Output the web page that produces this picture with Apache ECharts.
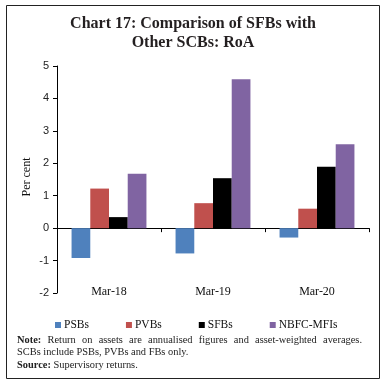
<!DOCTYPE html>
<html>
<head>
<meta charset="utf-8">
<script src="https://cdn.jsdelivr.net/npm/echarts@6/dist/echarts.min.js"></script>
<style>
html,body{margin:0;padding:0;background:#fff;}
#c{width:386px;height:389px;}
</style>
</head>
<body>
<div id="c"></div>
<script>
var categories = ['Mar-18', 'Mar-19', 'Mar-20'];
var seriesNames = ['PSBs', 'PVBs', 'SFBs', 'NBFC-MFIs'];
var psbs = [-0.92, -0.78, -0.29];
var pvbs = [1.22, 0.77, 0.60];
var sfbs = [0.34, 1.54, 1.89];
var nbfcMfis = [1.68, 4.59, 2.59];
var yMin = -2, yMax = 5, yInterval = 1;
var titleLines = ['Chart 17: Comparison of SFBs with', 'Other SCBs: RoA'];
var yAxisName = 'Per cent';
var noteLabel = 'Note:';
var noteText1 = 'Return on assets are annualised figures and asset-weighted averages.';
var noteText2 = 'SCBs include PSBs, PVBs and FBs only.';
var sourceLabel = 'Source:';
var sourceText = 'Supervisory returns.';

var colors = ['#4F81BD', '#C0504D', '#000000', '#8064A2'];
var values = [psbs, pvbs, sfbs, nbfcMfis];
var serif = '"Liberation Serif", "DejaVu Serif", serif';
var sans = '"Liberation Sans", "DejaVu Sans", sans-serif';
var noteSize = 10.4;

// justified first note line
var cv = document.createElement('canvas').getContext('2d');
function w(t, bold) { cv.font = (bold ? 'bold ' : '') + noteSize + 'px ' + serif; return cv.measureText(t).width; }
var words = [{t: noteLabel, b: true}].concat(noteText1.split(' ').map(function (s) { return {t: s, b: false}; }));
var lineL = 17, lineR = 362;
var sumW = words.reduce(function (a, o) { return a + w(o.t, o.b); }, 0);
var gap = (lineR - lineL - sumW) / (words.length - 1);
var noteEls = [];
var cx = lineL;
words.forEach(function (o) {
  noteEls.push({type: 'text', x: cx, y: 335, style: {text: o.t, fontFamily: serif, fontSize: noteSize, fontWeight: o.b ? 'bold' : 'normal', fill: '#222'}});
  cx += w(o.t, o.b) + gap;
});

var chart = echarts.init(document.getElementById('c'), null, {renderer: 'canvas'});
var series = seriesNames.map(function (n, i) {
  return {
    name: n, type: 'bar', data: values[i], xAxisIndex: 0, yAxisIndex: 0,
    barGap: '0%', barCategoryGap: '28%',
    itemStyle: {color: colors[i]}
  };
});
chart.setOption({
  animation: false,
  backgroundColor: '#fff',
  grid: {left: 57, right: 17, top: 66, bottom: 96, containLabel: false},
  xAxis: [{
    type: 'category', data: categories, position: 'bottom',
    axisLine: {show: true, onZero: true, lineStyle: {color: '#000', width: 1}},
    axisTick: {show: true, length: 4, inside: false, lineStyle: {color: '#000'}},
    axisLabel: {show: false}
  }, {
    type: 'category', data: categories, position: 'bottom',
    axisLine: {show: false, onZero: false},
    axisTick: {show: false},
    axisLabel: {show: true, margin: -1, verticalAlign: 'middle', fontFamily: serif, fontSize: 12, color: '#111'}
  }],
  yAxis: {
    type: 'value', min: yMin, max: yMax, interval: yInterval,
    axisLine: {show: true, lineStyle: {color: '#000', width: 1}},
    axisTick: {show: true, length: 4, lineStyle: {color: '#000'}},
    axisLabel: {fontFamily: sans, fontSize: 11, color: '#222', margin: 8},
    splitLine: {show: false}
  },
  legend: {
    data: seriesNames, left: 50, top: 314, itemWidth: 6, itemHeight: 6, itemGap: 37,
    icon: 'rect', textStyle: {fontFamily: serif, fontSize: 11.5, color: '#111', padding: [0, 0, 0, -2]}
  },
  series: series,
  graphic: [
    {type: 'rect', shape: {x: 6.5, y: 5.5, width: 373, height: 373}, style: {fill: 'none', stroke: '#222', lineWidth: 1}, silent: true},
    {type: 'text', x: 193, y: 16, style: {text: titleLines[0], fontFamily: serif, fontWeight: 'bold', fontSize: 16, fill: '#231f20', textAlign: 'center'}},
    {type: 'text', x: 193, y: 35, style: {text: titleLines[1], fontFamily: serif, fontWeight: 'bold', fontSize: 16, fill: '#231f20', textAlign: 'center'}},
    {type: 'text', x: 27, y: 177, rotation: Math.PI / 2, style: {text: yAxisName, fontFamily: serif, fontSize: 12, fill: '#111', textAlign: 'center', textVerticalAlign: 'middle', verticalAlign: 'middle'}},
    {type: 'text', x: 17, y: 347.5, style: {text: noteText2, fontFamily: serif, fontSize: noteSize, fill: '#222'}},
    {type: 'text', x: 17, y: 360, style: {
      text: '{b|' + sourceLabel + '} ' + sourceText,
      fontFamily: serif, fontSize: noteSize, fill: '#222',
      rich: {b: {fontFamily: serif, fontSize: noteSize, fontWeight: 'bold', fill: '#222'}}
    }}
  ].concat(noteEls)
});
</script>
</body>
</html>
